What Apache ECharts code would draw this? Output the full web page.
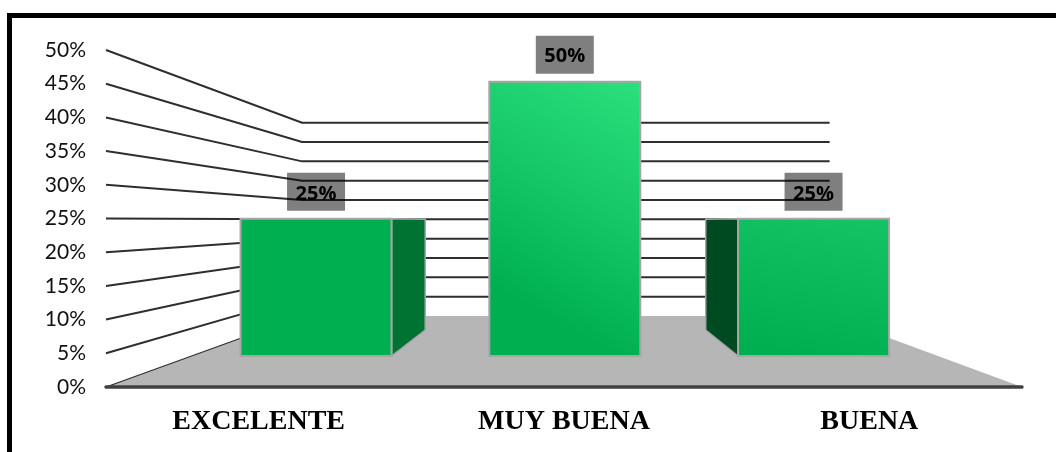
<!DOCTYPE html>
<html>
<head>
<meta charset="utf-8">
<style>
html, body { margin: 0; padding: 0; background: #fff; }
#chart { width: 1056px; height: 452px; }
</style>
<script src="https://cdn.jsdelivr.net/npm/echarts@6/dist/echarts.min.js"></script>
</head>
<body>
<div id="chart"></div>
<script>
var categories = ['EXCELENTE', 'MUY BUENA', 'BUENA'];
var percentValues = [25, 50, 25];
var gridTicks = [0, 5, 10, 15, 20, 25, 30, 35, 40, 45, 50];

// fake 3D: the grid is the front plane, t=1 is the back wall
var INSET_LEFT = 0.214;
var INSET_RIGHT = 0.21;
var BACK_RISE = 0.2107;
var BACK_SCALE = 0.5736;
var BAR_FRONT = 0.437;
var BAR_BACK = 0.803;
var BAR_WIDTH = 0.607;

var frontColors = [
    ['#00b050', '#00b050'],
    ['#00b050', '#2ce07e'],
    ['#00b050', '#13c262']
];
var frontGradients = [
    [0, 1, 0, 0],
    [0, 1, 1, 0],
    [0.4, 1, 0.6, 0]
];
var gradientStarts = [0, 0.2, 0];
var sideColors = ['#007232', '#007232', '#004a22'];

function project(g, fx, py, t) {
    var left = g.x + g.width * INSET_LEFT * t;
    var right = g.x + g.width * (1 - INSET_RIGHT * t);
    var base = g.y + g.height;
    var backY = base - g.height * BACK_RISE - (base - py) * BACK_SCALE;
    return [left + (right - left) * fx, py * (1 - t) + backY * t];
}

function renderFloor(params, api) {
    var g = params.coordSys;
    var py = api.coord([0, 0])[1];
    return {
        type: 'polygon',
        shape: {
            points: [project(g, 0, py, 0), project(g, 0, py, 1), project(g, 1, py, 1), project(g, 1, py, 0)]
        },
        style: { fill: '#b6b6b6' }
    };
}

function renderGridLine(params, api) {
    var g = params.coordSys;
    var v = api.value(1);
    var py = api.coord([0, v])[1];
    var pts = [project(g, 0, py, 0), project(g, 0, py, 1)];
    if (v > 0) {
        pts.push(project(g, 1, py, 1));
    }
    return {
        type: 'polyline',
        shape: { points: pts },
        style: { fill: null, stroke: '#2e2e2e', lineWidth: v > 0 ? 2 : 1.2 }
    };
}

function renderBar(params, api) {
    var g = params.coordSys;
    var i = params.dataIndex;
    var top = api.coord([i, api.value(1)]);
    var base = api.coord([i, 0]);
    var half = api.size([1, 0])[0] * BAR_WIDTH / 2 / g.width;
    var fc = (top[0] - g.x) / g.width;
    var fl = fc - half, fr = fc + half;

    var a = project(g, fl, top[1], BAR_FRONT);
    var b = project(g, fr, base[1], BAR_FRONT);
    var children = [];

    // only the side that faces the viewer
    var edge = null;
    if (project(g, fr, base[1], BAR_BACK)[0] > b[0]) {
        edge = fr;
    } else if (project(g, fl, base[1], BAR_BACK)[0] < a[0]) {
        edge = fl;
    }
    if (edge !== null) {
        children.push({
            type: 'polygon',
            shape: {
                points: [
                    project(g, edge, top[1], BAR_FRONT),
                    project(g, edge, top[1], BAR_BACK),
                    project(g, edge, base[1], BAR_BACK),
                    project(g, edge, base[1], BAR_FRONT)
                ]
            },
            style: { fill: sideColors[i], stroke: '#a6a6a6', lineWidth: 1.5 }
        });
    }

    var d = frontGradients[i];
    children.push({
        type: 'rect',
        shape: { x: a[0], y: a[1], width: b[0] - a[0], height: b[1] - a[1] },
        style: {
            fill: new echarts.graphic.LinearGradient(d[0], d[1], d[2], d[3], [
                { offset: gradientStarts[i], color: frontColors[i][0] },
                { offset: 1, color: frontColors[i][1] }
            ]),
            stroke: '#a6a6a6',
            lineWidth: 2
        }
    });

    var cx = (a[0] + b[0]) / 2;
    children.push({
        type: 'rect',
        shape: { x: cx - 29, y: a[1] - 46, width: 58, height: 38 },
        style: { fill: 'rgba(0,0,0,0.5)' }
    });
    children.push({
        type: 'text',
        style: {
            x: cx,
            y: a[1] - 25,
            text: api.value(1) + '%',
            fill: '#000',
            font: 'bold 20px "Open Sans"',
            align: 'center',
            verticalAlign: 'middle'
        }
    });
    return { type: 'group', children: children };
}

var mychart = echarts.init(document.getElementById('chart'));
var o = {
    animation: false,
    backgroundColor: '#fff',
    grid: { left: 106, right: 34, top: 50, bottom: 65 },
    graphic: [{
        type: 'polyline',
        z: 100,
        shape: { points: [[9.5, 452], [9.5, 15.5], [1056, 15.5]] },
        style: { fill: null, stroke: '#000', lineWidth: 5 }
    }],
    xAxis: {
        type: 'category',
        data: categories,
        z: 3,
        axisLine: { lineStyle: { color: '#404040', width: 3.5, cap: 'round' } },
        axisTick: { show: false },
        axisLabel: {
            margin: 21,
            color: '#000',
            fontFamily: 'Liberation Serif',
            fontWeight: 'bold',
            fontSize: 28
        }
    },
    yAxis: {
        type: 'value',
        min: 0,
        max: 50,
        interval: 5,
        axisLine: { show: false },
        axisTick: { show: false },
        splitLine: { show: false },
        axisLabel: {
            margin: 20,
            color: '#111',
            fontFamily: 'Lato',
            fontSize: 21,
            padding: [6, 0, 0, 0],
            formatter: '{value}%'
        }
    },
    series: [
        {
            type: 'custom',
            z: 1,
            silent: true,
            clip: false,
            renderItem: renderFloor,
            data: [[0, 0]]
        },
        {
            type: 'custom',
            z: 2,
            silent: true,
            clip: false,
            renderItem: renderGridLine,
            data: gridTicks.map(function (v) { return [0, v]; })
        },
        {
            type: 'custom',
            z: 5,
            silent: true,
            clip: false,
            renderItem: renderBar,
            data: percentValues.map(function (v, i) { return [i, v]; })
        }
    ]
};
mychart.setOption(o);
</script>
</body>
</html>
